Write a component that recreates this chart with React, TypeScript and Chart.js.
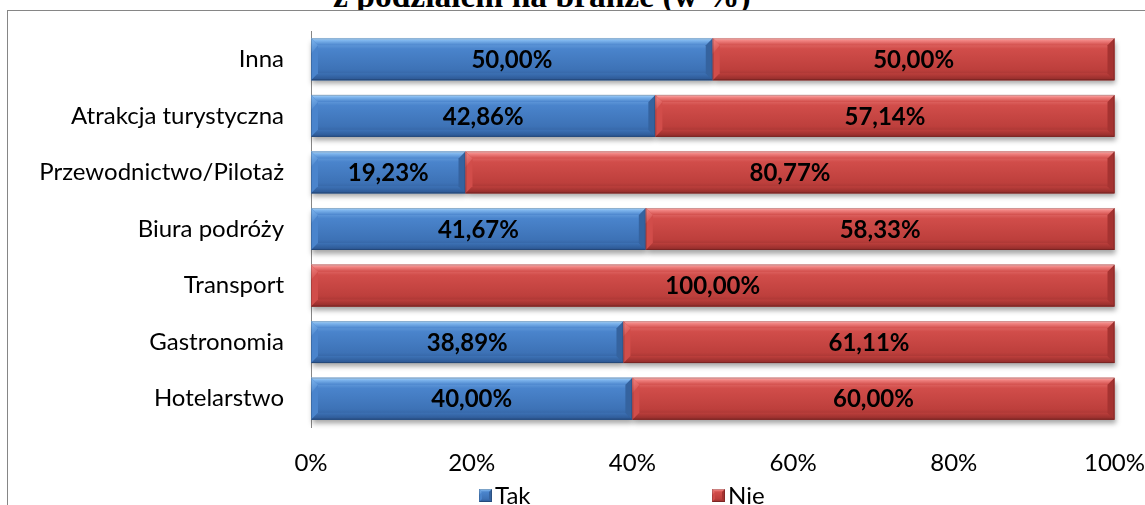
import React, { useEffect, useRef } from 'react';
import { Chart, registerables } from 'chart.js';

Chart.register(...registerables);

const categories = [
  'Inna',
  'Atrakcja turystyczna',
  'Przewodnictwo/Pilotaż',
  'Biura podróży',
  'Transport',
  'Gastronomia',
  'Hotelarstwo',
];
const takValues = [50, 42.86, 19.23, 41.67, 0, 38.89, 40];
const nieValues = [50, 57.14, 80.77, 58.33, 100, 61.11, 60];
const seriesNames = ['Tak', 'Nie'];
const xTickValues = [0, 20, 40, 60, 80, 100];
const titleText = 'z podziałem na branże (w %)';

const FONT = 'Lato, "Noto Sans", sans-serif';
const FS = 24;

type Pal = { hi: string; light: string; main: string; low: string; dark: string; side: string };
const palettes: Pal[] = [
  { hi: '#b7dcfb', light: '#7fb6ee', main: '#4a84cc', low: '#3d72b6', dark: '#2b5590', side: '#35639f' },
  { hi: '#ffc0bf', light: '#f28583', main: '#d14d4a', low: '#bd3f3c', dark: '#8f2b29', side: '#a53331' },
];

function poly(ctx: CanvasRenderingContext2D, pts: number[][], fill: any) {
  ctx.beginPath();
  ctx.moveTo(pts[0][0], pts[0][1]);
  for (let i = 1; i < pts.length; i++) ctx.lineTo(pts[i][0], pts[i][1]);
  ctx.closePath();
  ctx.fillStyle = fill;
  ctx.fill();
}

function drawBevel(ctx: CanvasRenderingContext2D, l: number, r: number, t: number, b: number, p: Pal, bevel: number) {
  const w = r - l;
  const h = b - t;
  if (w <= 0 || h <= 0) return;
  const bw = Math.min(bevel, w / 2, h / 2);
  const body = ctx.createLinearGradient(0, t, 0, b);
  body.addColorStop(0, p.light);
  body.addColorStop(0.25, p.main);
  body.addColorStop(0.75, p.low);
  body.addColorStop(1, p.dark);
  ctx.fillStyle = body;
  ctx.fillRect(l, t, w, h);
  const gt = ctx.createLinearGradient(0, t, 0, t + bw);
  gt.addColorStop(0, p.hi);
  gt.addColorStop(0.3, p.light);
  gt.addColorStop(1, p.main);
  poly(ctx, [[l, t], [r, t], [r - bw, t + bw], [l + bw, t + bw]], gt);
  const gb = ctx.createLinearGradient(0, b - bw, 0, b);
  gb.addColorStop(0, p.low);
  gb.addColorStop(1, p.dark);
  poly(ctx, [[l + bw, b - bw], [r - bw, b - bw], [r, b], [l, b]], gb);
  poly(ctx, [[l, t], [l + bw, t + bw], [l + bw, b - bw], [l, b]], p.main);
  const gl = ctx.createLinearGradient(l, t, l + bw, t + bw * 2);
  gl.addColorStop(0, p.light);
  gl.addColorStop(1, p.main);
  poly(ctx, [[l, t], [l + bw, t + bw], [l, t + bw * 2.2]], gl);
  poly(ctx, [[r, t], [r, b], [r - bw, b - bw], [r - bw, t + bw]], p.side);
  ctx.strokeStyle = 'rgba(0,0,0,0.18)';
  ctx.lineWidth = 1;
  ctx.strokeRect(l + 0.5, t + 0.5, w - 1, h - 1);
}

const fmt = (v: number) => v.toFixed(2).replace('.', ',') + '%';

const barPlugin = {
  id: 'bevelBars',
  beforeDatasetsDraw(chart: any) {
    const ctx = chart.ctx;
    chart.data.datasets.forEach((ds: any, di: number) => {
      const meta = chart.getDatasetMeta(di);
      meta.data.forEach((el: any, i: number) => {
        if (!ds.data[i]) return;
        const { x, y, base, height } = el.getProps(['x', 'y', 'base', 'height'], true);
        ctx.save();
        ctx.shadowColor = 'rgba(0,0,0,0.35)';
        ctx.shadowBlur = 5;
        ctx.shadowOffsetX = 1;
        ctx.shadowOffsetY = 4;
        ctx.fillStyle = '#888';
        ctx.fillRect(Math.min(x, base), y - height / 2, Math.abs(x - base), height);
        ctx.restore();
      });
    });
  },
  afterDatasetsDraw(chart: any) {
    const ctx = chart.ctx;
    ctx.save();
    chart.data.datasets.forEach((ds: any, di: number) => {
      const meta = chart.getDatasetMeta(di);
      meta.data.forEach((el: any, i: number) => {
        if (!ds.data[i]) return;
        const { x, y, base, height } = el.getProps(['x', 'y', 'base', 'height'], true);
        drawBevel(ctx, Math.min(x, base), Math.max(x, base), y - height / 2, y + height / 2, palettes[di], 7);
      });
    });
    ctx.fillStyle = '#000';
    ctx.font = `bold ${FS}px ${FONT}`;
    ctx.textAlign = 'center';
    ctx.textBaseline = 'middle';
    chart.data.datasets.forEach((ds: any, di: number) => {
      const meta = chart.getDatasetMeta(di);
      meta.data.forEach((el: any, i: number) => {
        const v = ds.data[i];
        if (!v) return;
        const { x, y, base } = el.getProps(['x', 'y', 'base'], true);
        ctx.fillText(fmt(v), (x + base) / 2, y + 1);
      });
    });
    ctx.restore();
  },
  afterDraw(chart: any) {
    const ctx = chart.ctx;
    ctx.save();
    ctx.font = `${FS}px ${FONT}`;
    ctx.textAlign = 'left';
    ctx.textBaseline = 'middle';
    const startX = 479;
    const step = 233;
    const cy = 495;
    chart.data.datasets.forEach((ds: any, di: number) => {
      const bx = startX + di * step;
      drawBevel(ctx, bx, bx + 13, cy - 6, cy + 7, palettes[di], 3);
      ctx.fillStyle = '#000';
      ctx.fillText(ds.label, bx + 16, cy + 1);
    });
    ctx.restore();
  },
};

export default function App() {
  const ref = useRef<HTMLCanvasElement>(null);
  useEffect(() => {
    document.body.style.margin = '0';
    const chart = new Chart(ref.current!, {
      type: 'bar',
      data: {
        labels: categories,
        datasets: [
          { label: seriesNames[0], data: takValues, backgroundColor: palettes[0].main, borderWidth: 0 },
          { label: seriesNames[1], data: nieValues, backgroundColor: palettes[1].main, borderWidth: 0 },
        ],
      },
      options: {
        indexAxis: 'y',
        animation: false,
        responsive: false,
        maintainAspectRatio: false,
        layout: { padding: { left: 8, right: 14, top: 31, bottom: 6 } },
        plugins: { legend: { display: false }, title: { display: false }, tooltip: { enabled: false } },
        datasets: { bar: { barPercentage: 0.74, categoryPercentage: 1 } },
        scales: {
          x: {
            stacked: true,
            min: 0,
            max: 100,
            afterBuildTicks: (s: any) => { s.ticks = xTickValues.map((v) => ({ value: v })); },
            ticks: {
              callback: (v: any) => v + '%',
              color: '#000',
              font: { family: FONT, size: FS, lineHeight: '72px' },
              padding: 0,
            },
            grid: { display: false, drawTicks: false },
            border: { display: false },
          },
          y: {
            stacked: true,
            clip: false,
            afterFit: (s: any) => { s.width = 311 - 8; },
            ticks: { color: '#000', font: { family: FONT, size: FS }, padding: 0 },
            grid: { display: false, drawTicks: true, tickLength: 27 },
            border: { display: true, color: '#868686', width: 1 },
          },
        },
      },
      plugins: [barPlugin],
    });
    return () => chart.destroy();
  }, []);

  return (
    <div style={{ position: 'absolute', left: 0, top: 0, width: 1145, height: 505, overflow: 'hidden', background: '#fff' }}>
      <div
        style={{
          position: 'absolute',
          left: 333,
          top: -21,
          fontFamily: '"Liberation Serif", "Times New Roman", serif',
          fontWeight: 'bold',
          fontSize: 33.5,
          lineHeight: '34px',
          whiteSpace: 'nowrap',
          color: '#000',
        }}
      >
        {titleText}
      </div>
      <div
        style={{
          position: 'absolute',
          left: 7,
          top: 10,
          width: 1200,
          height: 600,
          border: '1px solid #868686',
          background: '#fff',
        }}
      />
      <canvas ref={ref} width={1145} height={505} style={{ position: 'absolute', left: 0, top: 0 }} />
    </div>
  );
}
